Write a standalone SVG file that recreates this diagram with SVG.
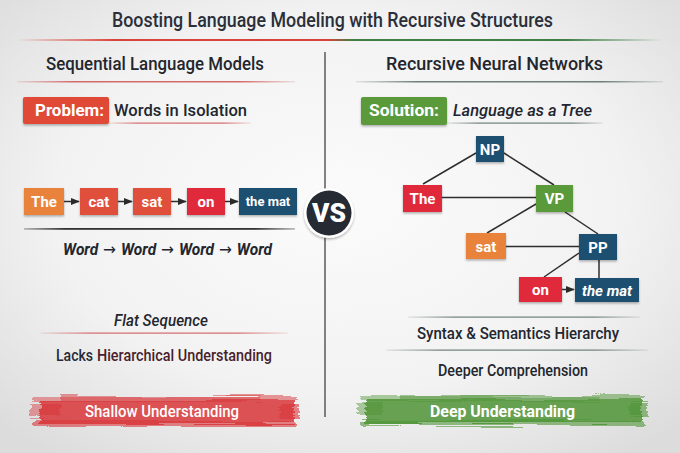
<svg xmlns="http://www.w3.org/2000/svg" width="680" height="453" viewBox="0 0 680 453">
<defs>
<radialGradient id="bg" cx="50%" cy="45%" r="70%">
<stop offset="0" stop-color="#fbfbfb"/><stop offset="0.6" stop-color="#f2f2f2"/><stop offset="1" stop-color="#dcdcdc"/>
</radialGradient>
<linearGradient id="titleLine" x1="0" x2="1" y1="0" y2="0">
<stop offset="0" stop-color="#d9443a" stop-opacity="0"/><stop offset="0.15" stop-color="#d9443a"/><stop offset="0.48" stop-color="#d9443a"/><stop offset="0.52" stop-color="#3f7f45"/><stop offset="0.85" stop-color="#3f7f45"/><stop offset="1" stop-color="#3f7f45" stop-opacity="0"/>
</linearGradient>
<linearGradient id="redFade" x1="0" x2="1" y1="0" y2="0">
<stop offset="0" stop-color="#d46a6a" stop-opacity="0.15"/><stop offset="0.2" stop-color="#d46a6a"/><stop offset="0.8" stop-color="#d46a6a"/><stop offset="1" stop-color="#d46a6a" stop-opacity="0.15"/>
</linearGradient>
<linearGradient id="grayFade" x1="0" x2="1" y1="0" y2="0">
<stop offset="0" stop-color="#6f7f78" stop-opacity="0.15"/><stop offset="0.2" stop-color="#6f7f78"/><stop offset="0.8" stop-color="#6f7f78"/><stop offset="1" stop-color="#6f7f78" stop-opacity="0.15"/>
</linearGradient>
<linearGradient id="darkFade" x1="0" x2="1" y1="0" y2="0">
<stop offset="0" stop-color="#333" stop-opacity="0.3"/><stop offset="0.15" stop-color="#333"/><stop offset="0.85" stop-color="#333"/><stop offset="1" stop-color="#333" stop-opacity="0.3"/>
</linearGradient>
<filter id="rough" x="-5%" y="-40%" width="110%" height="180%">
<feTurbulence type="fractalNoise" baseFrequency="0.01 0.45" numOctaves="2" seed="3"/>
<feDisplacementMap in="SourceGraphic" scale="8" xChannelSelector="R" yChannelSelector="G"/>
<feGaussianBlur stdDeviation="0.6"/>
</filter>
<filter id="shadow" x="-20%" y="-20%" width="140%" height="150%">
<feDropShadow dx="0" dy="1.5" stdDeviation="1.2" flood-color="#000" flood-opacity="0.3"/>
</filter>
<marker id="arr" viewBox="0 0 10 10" refX="9" refY="5" markerWidth="6" markerHeight="6" orient="auto">
<path d="M0,1 L10,5 L0,9 z" fill="#2a2a2a"/>
</marker>
<style>
text{font-family:Roboto,"Liberation Sans",sans-serif}
.title{font-size:19.5px;font-weight:500;fill:#2b2f3a}
.hdr{font-size:18.5px;font-weight:500;fill:#23262e}
.lbl{font-size:17px;font-weight:700;fill:#fff}
.sub{font-size:17px;font-weight:500;fill:#222630}
.box{font-size:15px;font-weight:700;fill:#fff;text-anchor:middle}
.body{font-size:16px;font-weight:500;fill:#23262e;text-anchor:middle}
.edge{stroke:#2e2e2e;stroke-width:1.5;fill:none}
.orange{fill:#e9833a}.rorange{fill:#e0503a}.red{fill:#e02b3a}.blue{fill:#1f4f70}.green{fill:#5a9a3a}
</style>
</defs>
<rect width="680" height="453" fill="url(#bg)"/>

<!-- Title -->
<g id="title">
<text class="title" x="332.5" y="27" text-anchor="middle" textLength="441" lengthAdjust="spacingAndGlyphs">Boosting Language Modeling with Recursive Structures</text>
<rect x="17" y="39" width="646" height="2" fill="url(#titleLine)"/>
</g>

<!-- Divider -->
<g id="divider">
<line x1="325" y1="52" x2="325" y2="417" stroke="#5a5a5a" stroke-width="1.5"/>
</g>

<!-- Left header -->
<g id="left-header">
<text class="hdr" x="155" y="70" text-anchor="middle" textLength="218" lengthAdjust="spacingAndGlyphs">Sequential Language Models</text>
<rect x="17" y="81" width="278" height="1.5" fill="url(#redFade)"/>
</g>
<g id="right-header">
<text class="hdr" x="494.5" y="70" text-anchor="middle" textLength="217" lengthAdjust="spacingAndGlyphs">Recursive Neural Networks</text>
<rect x="356" y="81" width="307" height="1.5" fill="url(#grayFade)"/>
</g>

<!-- Problem -->
<g id="problem">
<rect x="23" y="97" width="86" height="27" rx="2" fill="#e04a35" filter="url(#shadow)"/>
<text class="lbl" x="69.5" y="116" text-anchor="middle" textLength="69" lengthAdjust="spacingAndGlyphs">Problem:</text>
<text class="sub" x="114" y="116" textLength="133" lengthAdjust="spacingAndGlyphs">Words in Isolation</text>
<rect x="109" y="122.5" width="142" height="1.2" fill="url(#redFade)"/>
</g>
<g id="solution">
<rect x="361" y="97" width="86" height="28" rx="2" fill="#5a9a3a" filter="url(#shadow)"/>
<text class="lbl" x="404" y="116" text-anchor="middle" textLength="70" lengthAdjust="spacingAndGlyphs">Solution:</text>
<text class="sub" x="453" y="116" font-style="italic" textLength="139" lengthAdjust="spacingAndGlyphs">Language as a Tree</text>
<rect x="447" y="122.5" width="156" height="1.2" fill="url(#grayFade)"/>
</g>

<!-- Sequence connectors -->
<g id="seq-connectors" class="edge">
<line x1="64" y1="201.5" x2="79" y2="201.5" marker-end="url(#arr)"/>
<line x1="118" y1="201.5" x2="132" y2="201.5" marker-end="url(#arr)"/>
<line x1="171" y1="201.5" x2="186" y2="201.5" marker-end="url(#arr)"/>
<line x1="225" y1="201.5" x2="238" y2="201.5" marker-end="url(#arr)"/>
</g>
<g id="seq-the"><rect class="orange" x="24" y="188" width="40" height="27" filter="url(#shadow)"/><text class="box" x="44" y="207">The</text></g>
<g id="seq-cat"><rect class="rorange" x="80" y="188" width="38" height="27" filter="url(#shadow)"/><text class="box" x="99" y="207">cat</text></g>
<g id="seq-sat"><rect class="rorange" x="133" y="188" width="38" height="27" filter="url(#shadow)"/><text class="box" x="152" y="207">sat</text></g>
<g id="seq-on"><rect class="red" x="187" y="188" width="38" height="27" filter="url(#shadow)"/><text class="box" x="206" y="207">on</text></g>
<g id="seq-themat"><rect class="blue" x="239" y="188" width="58" height="27" filter="url(#shadow)"/><text class="box" x="268" y="206" style="font-size:13px">the mat</text></g>
<rect x="24" y="228" width="271" height="1.8" fill="url(#darkFade)"/>
<g id="word-seq">
<text class="body" x="167.5" y="255" style="font-weight:700" font-style="italic" textLength="209" lengthAdjust="spacingAndGlyphs">Word<tspan style="font-family:'DejaVu Sans',sans-serif;font-weight:400;font-style:normal"> → </tspan>Word<tspan style="font-family:'DejaVu Sans',sans-serif;font-weight:400;font-style:normal"> → </tspan>Word<tspan style="font-family:'DejaVu Sans',sans-serif;font-weight:400;font-style:normal"> → </tspan>Word</text>
</g>

<!-- VS -->
<g id="vs">
<circle cx="329" cy="213" r="25" fill="#fff" filter="url(#shadow)"/>
<circle cx="329" cy="213" r="22.5" fill="#262a33"/>
<text x="329" y="222" text-anchor="middle" style="font-size:25px;font-weight:900;fill:#fff" textLength="34" lengthAdjust="spacingAndGlyphs">VS</text>
</g>

<!-- Tree connectors -->
<g id="tree-connectors" class="edge">
<line x1="476" y1="153" x2="423" y2="184"/>
<line x1="504" y1="153" x2="554" y2="185"/>
<line x1="442" y1="197.5" x2="536" y2="197.5"/>
<line x1="536" y1="204" x2="487" y2="233"/>
<line x1="565" y1="212" x2="598" y2="234"/>
<line x1="506" y1="246.5" x2="579" y2="246.5"/>
<line x1="579" y1="253" x2="544" y2="277"/>
<line x1="599" y1="260" x2="599" y2="278"/>
<line x1="562" y1="289.5" x2="574" y2="289.5" marker-end="url(#arr)"/>
</g>
<g id="t-np"><rect class="blue" x="476" y="136" width="28" height="26" filter="url(#shadow)"/><text class="box" x="490" y="154.5">NP</text></g>
<g id="t-the"><rect class="red" x="403" y="185" width="39" height="27" filter="url(#shadow)"/><text class="box" x="422.5" y="204">The</text></g>
<g id="t-vp"><rect class="green" x="536" y="185" width="37" height="27" filter="url(#shadow)"/><text class="box" x="554.5" y="204">VP</text></g>
<g id="t-sat"><rect class="orange" x="466" y="233" width="40" height="26" filter="url(#shadow)"/><text class="box" x="486" y="251.5">sat</text></g>
<g id="t-pp"><rect class="blue" x="579" y="234" width="38" height="26" filter="url(#shadow)"/><text class="box" x="598" y="252.5">PP</text></g>
<g id="t-on"><rect class="red" x="519" y="277" width="43" height="25" filter="url(#shadow)"/><text class="box" x="540.5" y="295">on</text></g>
<g id="t-themat"><rect class="blue" x="575" y="278" width="64" height="24" filter="url(#shadow)"/><text class="box" x="607" y="295.5" font-style="italic">the mat</text></g>

<!-- Left bottom -->
<g id="flat">
<text class="body" x="161" y="326" font-style="italic" textLength="94" lengthAdjust="spacingAndGlyphs">Flat Sequence</text>
<rect x="41" y="332.5" width="247" height="1.2" fill="url(#redFade)"/>
</g>
<g id="lacks">
<text class="body" x="56" y="361" style="text-anchor:start;fill:#252a3a" textLength="37" lengthAdjust="spacingAndGlyphs">Lacks</text>
<text class="body" x="97" y="361" style="text-anchor:start;fill:#4a1e2c" textLength="175" lengthAdjust="spacingAndGlyphs">Hierarchical Understanding</text>
</g>
<g id="shallow">
<g fill="#d8353a" filter="url(#rough)">
<rect x="40" y="400" width="254" height="24" opacity="0.85"/>
<rect x="32" y="397" width="230" height="5" opacity="0.45"/>
<rect x="60" y="396" width="238" height="4" opacity="0.5"/>
<rect x="34" y="421" width="262" height="6" opacity="0.6"/>
<rect x="30" y="405" width="30" height="12" opacity="0.45"/>
<rect x="280" y="404" width="19" height="14" opacity="0.6"/>
</g>
<text class="lbl" x="162" y="416.5" text-anchor="middle" style="font-weight:500" textLength="154" lengthAdjust="spacingAndGlyphs">Shallow Understanding</text>
</g>

<!-- Right bottom -->
<rect x="408" y="316.5" width="232" height="1.2" fill="url(#grayFade)"/>
<g id="syntax">
<text class="body" x="518" y="339" textLength="202" lengthAdjust="spacingAndGlyphs">Syntax &amp; Semantics Hierarchy</text>
<rect x="386" y="349.5" width="262" height="1.2" fill="url(#grayFade)"/>
</g>
<g id="deeper">
<text class="body" x="513" y="376" textLength="150" lengthAdjust="spacingAndGlyphs">Deeper Comprehension</text>
</g>
<g id="deep">
<g fill="#4f9436" filter="url(#rough)">
<rect x="366" y="399" width="276" height="24" opacity="0.85"/>
<rect x="360" y="396" width="240" height="5" opacity="0.45"/>
<rect x="400" y="395" width="245" height="4" opacity="0.5"/>
<rect x="362" y="420" width="282" height="6" opacity="0.6"/>
<rect x="358" y="404" width="25" height="12" opacity="0.45"/>
<rect x="630" y="403" width="18" height="14" opacity="0.6"/>
</g>
<text class="lbl" x="502.5" y="416.5" text-anchor="middle" textLength="145" lengthAdjust="spacingAndGlyphs">Deep Understanding</text>
</g>
</svg>
